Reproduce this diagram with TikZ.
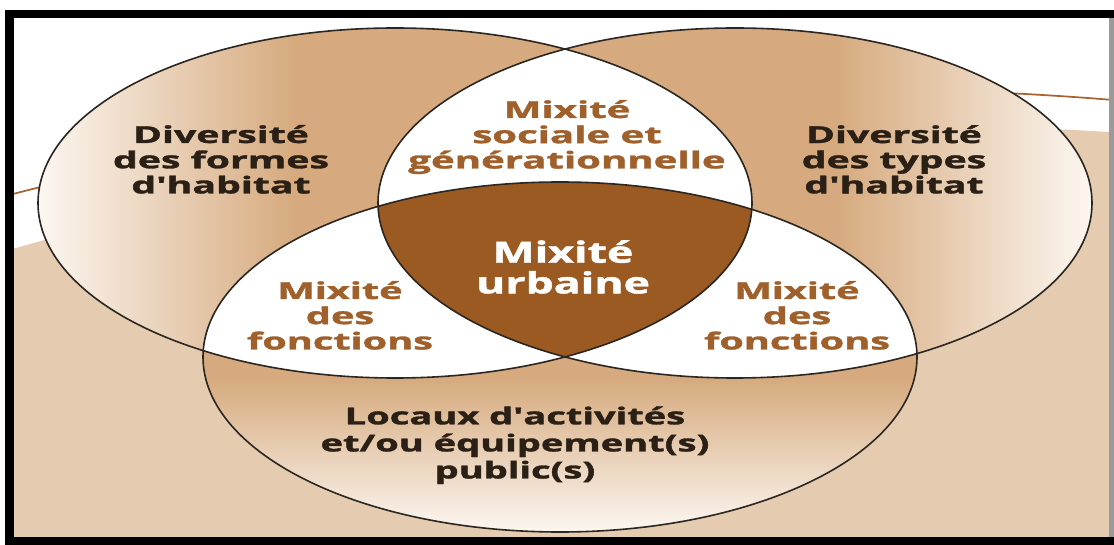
\documentclass[tikz,border=0pt]{standalone}
\usepackage{fontspec}
\setmainfont{Open Sans}[BoldFeatures={FakeBold=1.3}]
\usepackage{graphicx}
\definecolor{lightc}{HTML}{FCF7F1}
\definecolor{tanc}{HTML}{D6AA7E}
\definecolor{beigec}{HTML}{E5CBB0}
\definecolor{darkc}{HTML}{9B5A22}
\definecolor{browntxt}{HTML}{A0602C}
\definecolor{blacktxt}{HTML}{2B2016}
\definecolor{linebrown}{HTML}{A86430}
\definecolor{outl}{HTML}{2A2622}
\definecolor{grayc}{HTML}{9A9A9A}
\pgfdeclarehorizontalshading{shL}{100bp}{color(0bp)=(lightc); color(25bp)=(lightc); color(43bp)=(tanc); color(100bp)=(tanc)}
\pgfdeclarehorizontalshading{shR}{100bp}{color(0bp)=(tanc); color(57bp)=(tanc); color(75bp)=(lightc); color(100bp)=(lightc)}
\pgfdeclareverticalshading{shB}{100bp}{color(0bp)=(lightc); color(25bp)=(lightc); color(47bp)=(tanc); color(100bp)=(tanc)}
\newcommand{\lbl}[2]{\scalebox{#1}[1]{\begin{tabular}{@{}c@{}}#2\end{tabular}}}
\begin{document}
\begin{tikzpicture}[x=0.75pt,y=-0.75pt,
  ell/.style={x radius=267.75pt, y radius=131.25pt},
  outline/.style={draw=outl, line width=1.2pt},
  lab/.style={inner sep=0pt, font=\bfseries\fontsize{17.5}{18.6}\selectfont},
  big/.style={inner sep=0pt, font=\bfseries\fontsize{22}{21}\selectfont}]
\useasboundingbox (0,0) rectangle (1114,545);
\fill[white] (0,0) rectangle (1114,545);
\coordinate (cL) at (395,203);
\coordinate (cR) at (735,203);
\coordinate (cB) at (560,357);
\coordinate (cBg) at (908,3426);
\coordinate (cLn) at (842,3389);
\begin{scope}
  \clip (14,18) rectangle (1109,537);
  \fill[beigec] (cBg) circle (2475pt);
  \draw[linebrown, line width=1.3pt] (cLn) circle (2475pt);
  \shade[shading=shL] (cL) ellipse [ell];
  \shade[shading=shR] (cR) ellipse [ell];
  \shade[shading=shB] (cB) ellipse [ell];
  \begin{scope}
    \clip (cL) ellipse [ell];
    \fill[white] (cR) ellipse [ell];
    \fill[white] (cB) ellipse [ell];
  \end{scope}
  \begin{scope}
    \clip (cR) ellipse [ell];
    \fill[white] (cB) ellipse [ell];
  \end{scope}
  \begin{scope}
    \clip (cL) ellipse [ell];
    \clip (cR) ellipse [ell];
    \fill[darkc] (cB) ellipse [ell];
  \end{scope}
  \draw[outline] (cL) ellipse [ell];
  \draw[outline] (cR) ellipse [ell];
  \draw[outline] (cB) ellipse [ell];
\end{scope}
% frame
\fill[black] (5,10) rectangle (1114,18);
\fill[black] (5,10) rectangle (14,545);
\fill[black] (5,537) rectangle (1114,545);
\fill[grayc] (1109,18) rectangle (1114,537);
% labels
\node[lab, text=blacktxt] (dforme) at (221,163) {\lbl{1.68}{Diversité\\des formes\\d\textquotesingle habitat}};
\node[lab, text=blacktxt] (dtype) at (894,163) {\lbl{1.68}{Diversité\\des types\\d\textquotesingle habitat}};
\node[lab, text=browntxt] (msoc) at (567,138) {\lbl{1.72}{Mixité\\sociale et\\générationnelle}};
\node[big, text=white] (murb) at (563,271) {\lbl{1.52}{Mixité\\urbaine}};
\node[lab, text=browntxt] (mfl) at (340,319) {\lbl{1.70}{Mixité\\des\\fonctions}};
\node[lab, text=browntxt] (mfr) at (797,319) {\lbl{1.70}{Mixité\\des\\fonctions}};
\node[lab, text=blacktxt, font=\bfseries\fontsize{17.5}{20.3}\selectfont] (loc) at (515,446) {\lbl{1.63}{Locaux d\textquotesingle activités\\et/ou équipement(s)\\public(s)}};
\end{tikzpicture}
\end{document}
